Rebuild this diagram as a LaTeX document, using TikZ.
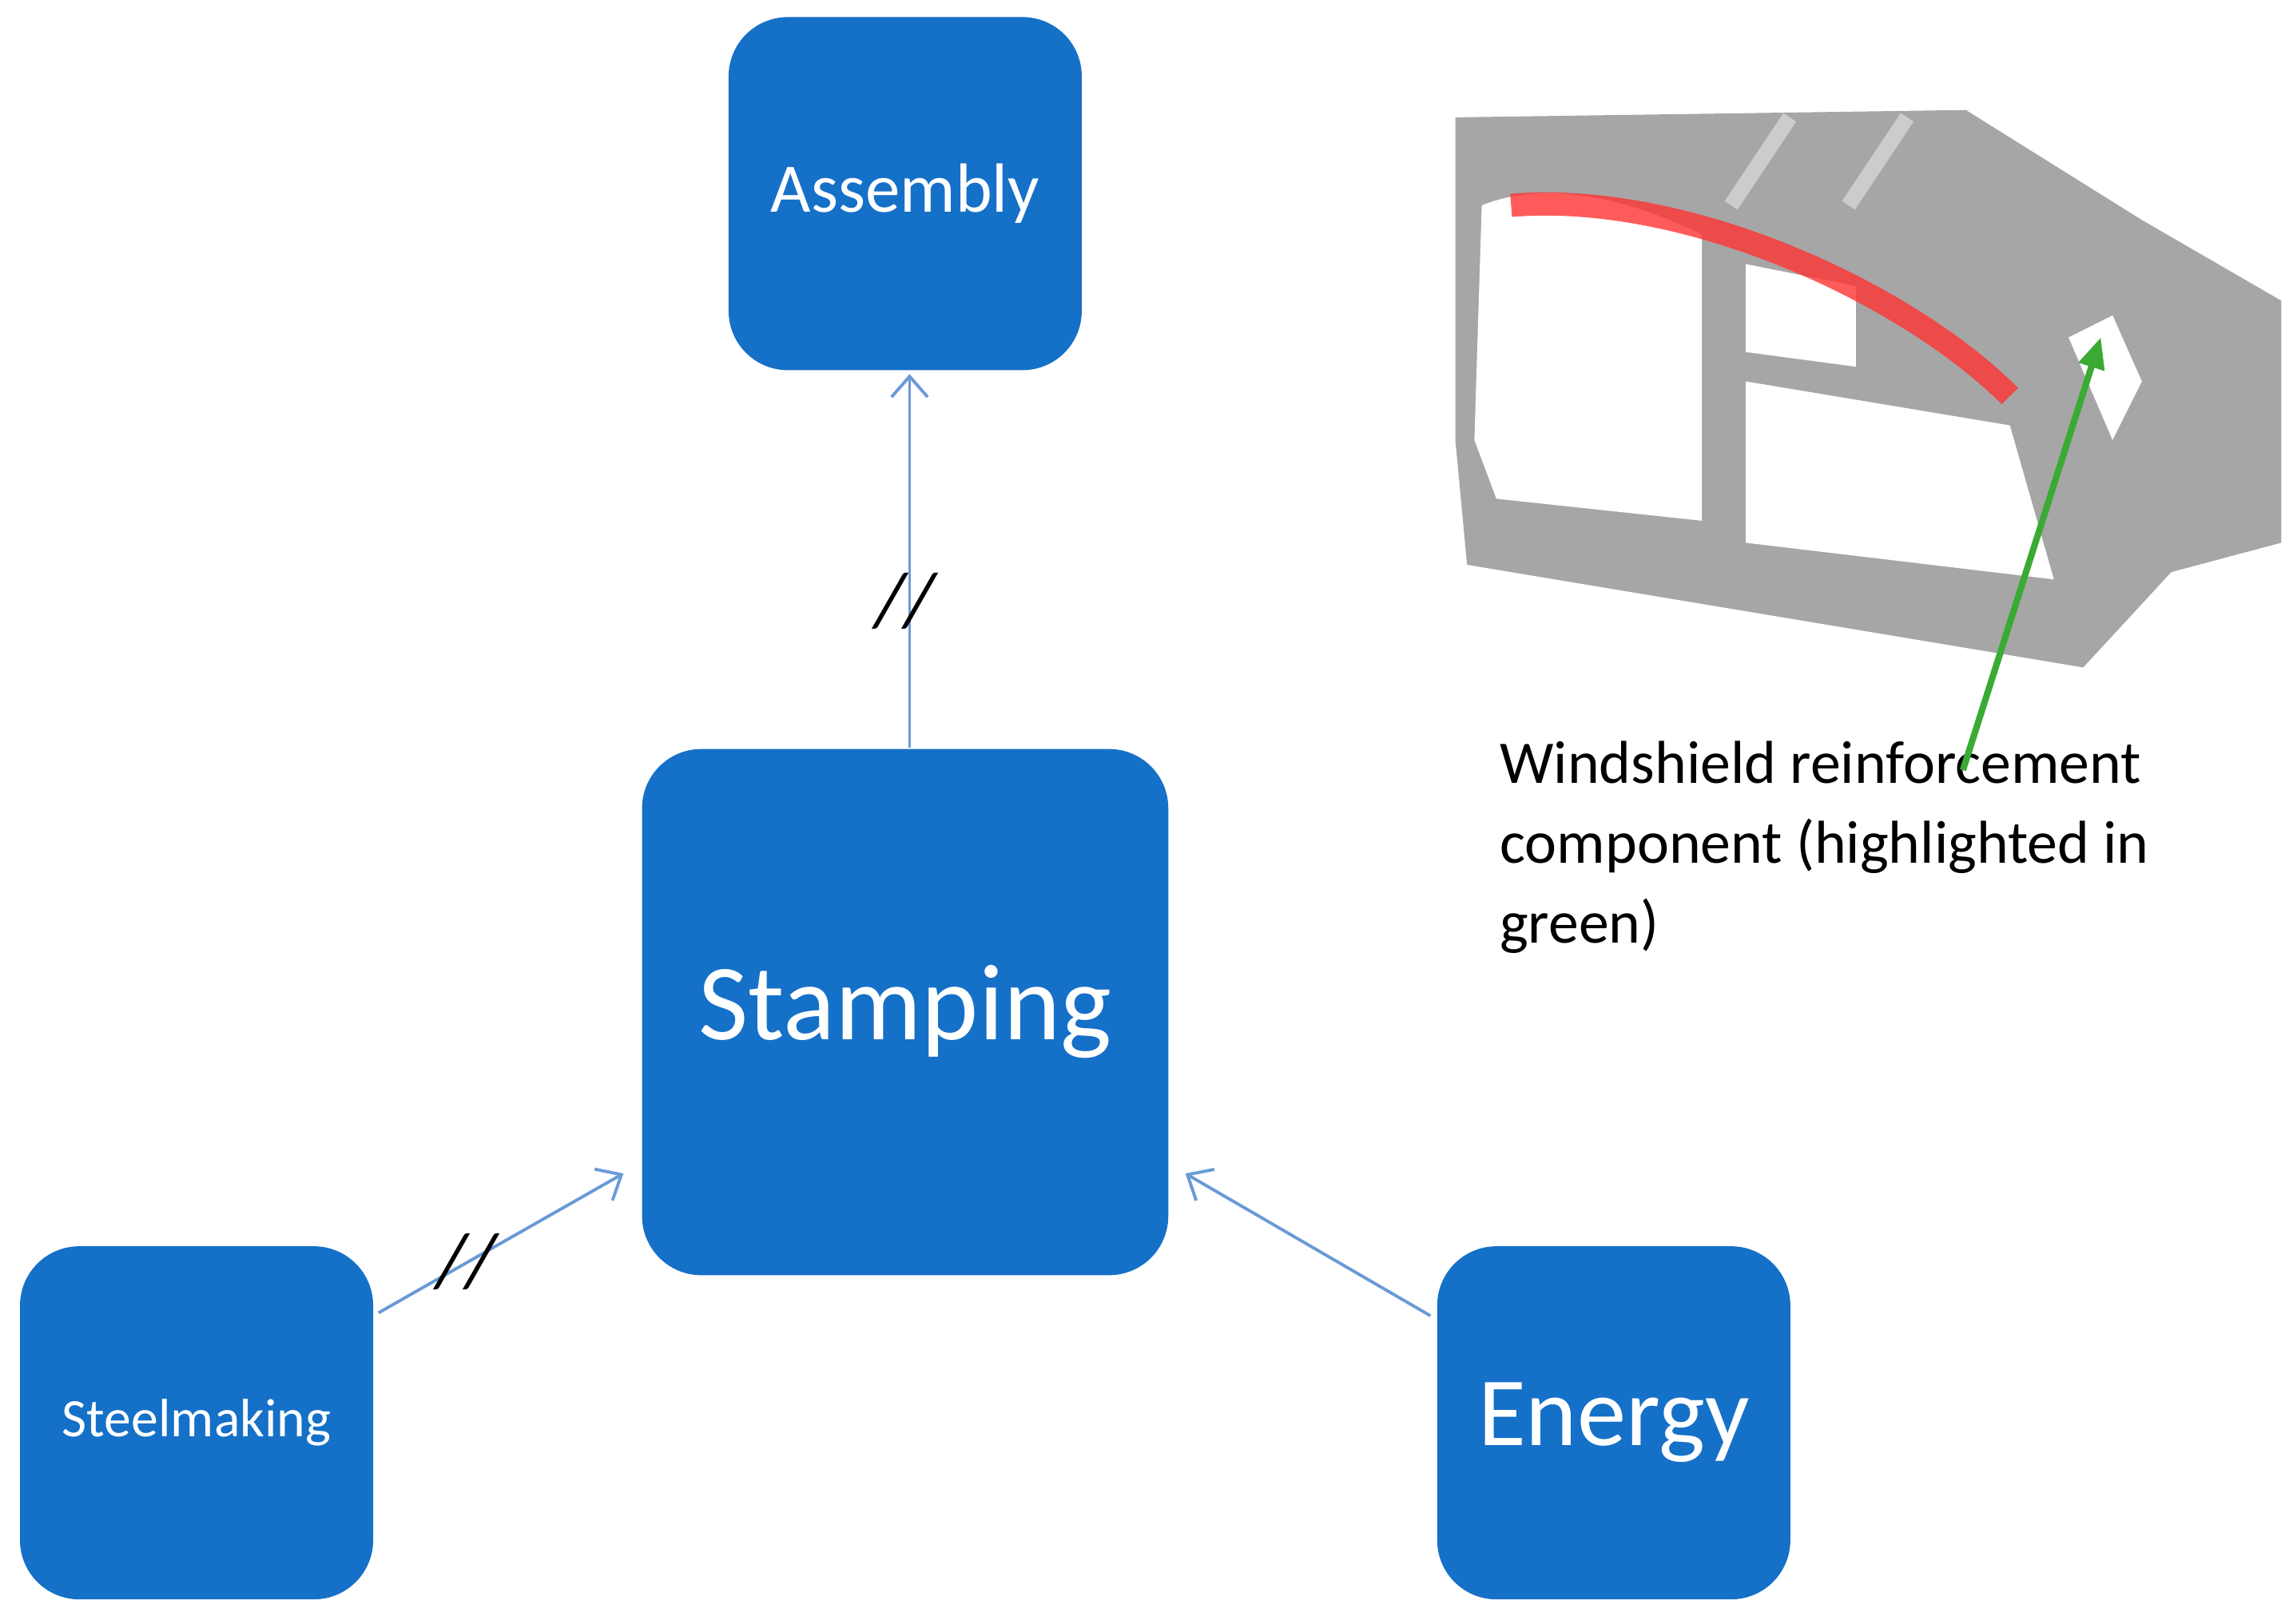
\documentclass[tikz,border=0pt]{standalone}
\usepackage{fontspec}
\setmainfont{Carlito}
\usetikzlibrary{arrows.meta}
\definecolor{boxblue}{HTML}{1570C8}
\definecolor{linkblue}{HTML}{6A9AD6}
\definecolor{arrowgreen}{HTML}{3AAA35}
\begin{document}
\begin{tikzpicture}[x=0.02cm,y=-0.02cm]
		\tikzstyle{stage}=[draw=boxblue,fill=boxblue,rounded corners=40*0.02cm,text=white,inner sep=0pt]
		\tikzstyle{link}=[draw=linkblue,line width=1.2pt,-{Straight Barb[length=8pt,width=14pt]}]
		\useasboundingbox (0,0) rectangle (1563,1107);
		
		\node[stage,minimum size=240*0.02cm,font=\fontsize{27}{32}\selectfont](assembly) at (617,132){Assembly};
		\node[stage,minimum size=358*0.02cm,font=\fontsize{42}{48}\selectfont](stamping) at (617,690){Stamping};
		\node[stage,minimum size=240*0.02cm,font=\fontsize{21}{25}\selectfont](steel) at (134,970){Steelmaking};
		\node[stage,minimum size=240*0.02cm,font=\fontsize{38}{44}\selectfont](energy) at (1100,970){Energy};
		
		\coordinate (s-out) at (620,510);
		\coordinate (a-in) at (620,255);
		\coordinate (st-out) at (258,895);
		\coordinate (st-in) at (425,800);
		\coordinate (en-out) at (975,897);
		\coordinate (en-in) at (808,800);
		\path[link] (s-out) -- (a-in);
		\path[link] (st-out) -- (st-in);
		\path[link] (en-out) -- (en-in);
		
		\node[font=\fontsize{30}{30}\selectfont\itshape](cut-up) at (617,410){//};
		\node[font=\fontsize{30}{30}\selectfont\itshape](cut-steel) at (318,860){//};
		
		% car body frame
		\fill[gray!70] (992,80) -- (1340,75) -- (1460,150) -- (1555,205) -- (1555,370) -- (1480,390)
		-- (1420,455) -- (1000,385) -- (992,300) -- cycle;
		\fill[white] (1010,140) .. controls (1060,120) and (1120,140) .. (1160,160) -- (1160,355) -- (1020,340) -- (1005,300) -- cycle;
		\fill[white] (1190,180) -- (1265,195) -- (1265,250) -- (1190,240) -- cycle;
		\fill[white] (1190,260) -- (1370,290) -- (1400,395) -- (1190,370) -- cycle;
		\fill[white] (1410,230) -- (1440,215) -- (1460,260) -- (1440,300) -- cycle;
		\draw[red!80,line width=9pt,opacity=0.8] (1030,140) .. controls (1150,130) and (1300,200) .. (1370,270);
		\draw[gray!40,line width=6pt] (1220,80) -- (1180,140);
		\draw[gray!40,line width=6pt] (1300,80) -- (1260,140);
		
		\node[anchor=north west,align=left,inner sep=0pt,font=\fontsize{23.5}{31}\selectfont](caption) at (1022,505){Windshield reinforcement\\component (highlighted in\\green)};
		\coordinate (g-start) at (1338,525);
		\coordinate (g-end) at (1432,230);
		\draw[arrowgreen,line width=2.5pt,-{Triangle[length=12pt,width=10pt]}] (g-start) -- (g-end);
\end{tikzpicture}
\end{document}
